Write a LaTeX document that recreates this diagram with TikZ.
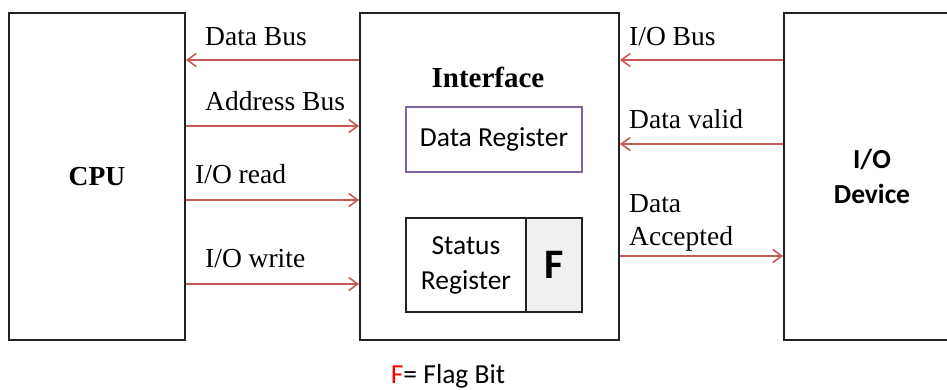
\documentclass[tikz,border=0pt]{standalone}
\usepackage{fontspec}
\setmainfont{Liberation Serif}
\newfontfamily\calibri{Carlito}
\usetikzlibrary{arrows.meta}
\definecolor{wire}{HTML}{C55A57}
\definecolor{regpurple}{HTML}{8064A2}
\definecolor{flagfill}{HTML}{F0F0F0}
\definecolor{boxline}{HTML}{222222}
\begin{document}
\begin{tikzpicture}[x=1pt,y=-1pt,
  block/.style={draw=boxline, line width=1.8pt, inner sep=0pt},
  wire/.style={draw=wire, line width=1.7pt,
    -{Straight Barb[length=9pt,width=13pt,line width=1.6pt]}},
  lbl/.style={anchor=base west, inner sep=0pt,
    font=\fontsize{27.5}{33}\selectfont},
  sanslbl/.style={inner sep=0pt, font=\calibri\fontsize{27.5}{35}\selectfont}
]
\useasboundingbox (0,0) rectangle (947,389);
\clip (0,0) rectangle (947,389);

% main blocks
\node[block, minimum width=176pt, minimum height=327pt,
      font=\bfseries\fontsize{27.5}{33}\selectfont] (cpu) at (97,176.5) {CPU};
\node[block, minimum width=259pt, minimum height=327pt] (iface) at (489.5,176.5) {};
\node[block, minimum width=176pt, minimum height=327pt, align=center,
      font=\calibri\bfseries\fontsize{27.5}{35}\selectfont] (dev) at (872,176.5) {I/O\\Device};

% interface contents
\node[anchor=base, inner sep=0pt, font=\bfseries\fontsize{29}{33}\selectfont]
  (ititle) at (488,87) {Interface};
\node[draw=regpurple, line width=1.5pt, minimum width=176pt, minimum height=65pt,
      sanslbl] (dreg) at (494,139.5) {Data Register};
\node[block, minimum width=120pt, minimum height=94pt, align=center,
      sanslbl] (sreg) at (466,265) {Status\\Register};
\node[block, fill=flagfill, minimum width=56pt, minimum height=94pt,
      font=\calibri\bfseries\fontsize{42}{42}\selectfont] (fbit) at (554,265) {F};

% CPU side signals
\draw[wire] (iface.west |- 0,60) -- (cpu.east |- 0,60);
\draw[wire] (cpu.east |- 0,126) -- (iface.west |- 0,126);
\draw[wire] (cpu.east |- 0,200) -- (iface.west |- 0,200);
\draw[wire] (cpu.east |- 0,284) -- (iface.west |- 0,284);
\node[lbl] (ldbus) at (205,45) {Data Bus};
\node[lbl] (labus) at (205,110) {Address Bus};
\node[lbl] (lrd) at (195,183) {I/O read};
\node[lbl] (lwr) at (205,267) {I/O write};

% device side signals
\draw[wire] (dev.west |- 0,60) -- (iface.east |- 0,60);
\draw[wire] (dev.west |- 0,144) -- (iface.east |- 0,144);
\draw[wire] (iface.east |- 0,256) -- (dev.west |- 0,256);
\node[lbl] (liobus) at (629,45) {I/O Bus};
\node[lbl] (lvalid) at (629,128) {Data valid};
\node[lbl, align=left] (lacc) at (629,245) {Data\\Accepted};

% legend
\node[anchor=base, inner sep=0pt, font=\calibri\fontsize{27.5}{33}\selectfont]
  (legend) at (448,383) {\textcolor{red}{F}= Flag Bit};
\end{tikzpicture}
\end{document}
